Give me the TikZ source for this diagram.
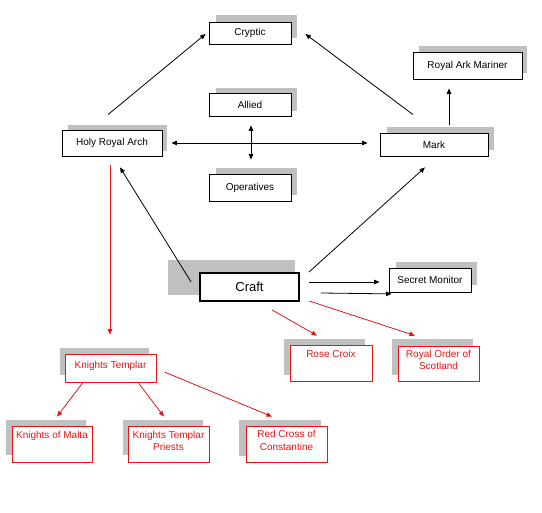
\documentclass[tikz,border=0pt]{standalone}
\usepackage{fontspec}
\setmainfont{Liberation Sans}
\usetikzlibrary{arrows.meta,calc}
\definecolor{shade}{RGB}{192,192,192}
\definecolor{redline}{RGB}{230,20,20}
\tikzset{
  box/.style={draw=black,line width=0.8pt,fill=white,inner sep=0pt,font=\fontsize{10}{12}\selectfont},
  rbox/.style={draw=redline,line width=0.8pt,fill=white,inner sep=0pt},
  rtext/.style={text=redline,inner sep=0pt,anchor=north,align=center,font=\fontsize{10}{12.5}\selectfont},
  shadowbox/.style={fill=shade,draw=none},
  arr/.style={line width=0.8pt,-{Triangle[length=5.5pt,width=4.5pt]}},
  darr/.style={line width=0.8pt,{Triangle[length=5.5pt,width=4.5pt]}-{Triangle[length=5.5pt,width=4.5pt]}},
  rarr/.style={draw=redline,line width=0.8pt,-{Triangle[length=5.5pt,width=4.5pt]},redline},
}
\begin{document}
\begin{tikzpicture}[x=1pt,y=-1pt]
\useasboundingbox (0,0) rectangle (542,513);
% shadows
\fill[shadowbox] (216,15) rectangle (297,38);
\fill[shadowbox] (419,46) rectangle (527,73);
\fill[shadowbox] (216,88) rectangle (297,111);
\fill[shadowbox] (68,125) rectangle (167,151);
\fill[shadowbox] (387,127) rectangle (494,150);
\fill[shadowbox] (216,168) rectangle (297,195);
\fill[shadowbox] (168,260) rectangle (295,295);
\fill[shadowbox] (396,262) rectangle (477,285);
\fill[shadowbox] (284,339) rectangle (365,375);
\fill[shadowbox] (392,339) rectangle (473,375);
\fill[shadowbox] (60,348) rectangle (149,375);
\fill[shadowbox] (6,420) rectangle (86,455);
\fill[shadowbox] (123,420) rectangle (203,455);
\fill[shadowbox] (239,420) rectangle (321,456);
% black boxes
\node[box,minimum width=82pt,minimum height=22pt] (cryptic) at (250,33) {Cryptic};
\node[box,minimum width=109pt,minimum height=27pt] (ram) at (467.5,65.5) {Royal Ark Mariner};
\node[box,minimum width=82pt,minimum height=23pt] (allied) at (250,104.5) {Allied};
\node[box,minimum width=100pt,minimum height=26pt] (hra) at (112,143) {Holy Royal Arch};
\node[box,minimum width=108pt,minimum height=23pt] (mark) at (434,144.5) {Mark};
\node[box,minimum width=82pt,minimum height=27pt] (oper) at (250,187.5) {Operatives};
\node[box,line width=1.8pt,minimum width=99pt,minimum height=28pt,font=\fontsize{13}{15}\selectfont] (craft) at (249.5,287) {Craft};
\node[box,minimum width=82pt,minimum height=24pt] (secmon) at (430,280) {Secret Monitor};
% red boxes
\node[rbox,minimum width=82pt,minimum height=36pt] (rose) at (331,363) {};
\node[rbox,minimum width=81pt,minimum height=35pt] (roy) at (438.5,363.5) {};
\node[rbox,minimum width=91pt,minimum height=28pt] (kt) at (110.5,368) {};
\node[rbox,minimum width=80pt,minimum height=36pt] (malta) at (52,444) {};
\node[rbox,minimum width=81pt,minimum height=36pt] (ktp) at (168.5,444) {};
\node[rbox,minimum width=81pt,minimum height=36pt] (rc) at (286.5,444) {};
% red texts
\node[rtext] (rose-t) at ($(rose.north)+(0,5.5)$) {Rose Croix};
\node[rtext] (roy-t) at ($(roy.north)+(0,4)$) {Royal Order of\\Scotland};
\node[rtext] (kt-t) at ($(kt.north)+(0,7)$) {Knights Templar};
\node[rtext] (malta-t) at ($(malta.north)+(0,5.5)$) {Knights of Malta};
\node[rtext] (ktp-t) at ($(ktp.north)+(0,5)$) {Knights Templar\\Priests};
\node[rtext] (rc-t) at ($(rc.north)+(0,4.5)$) {Red Cross of\\Constantine};
% black connectors
\draw[arr] ($(hra.north)+(-4,-15)$) -- ($(cryptic.west)+(-3,1)$);
\draw[arr] ($(mark.north)+(-21,-18)$) -- ($(cryptic.east)+(14,1)$);
\draw[arr] ($(mark.north)+(15,-8)$) -- ($(ram.south)+(-18.5,9)$);
\draw[darr] ($(hra.east)+(9,0)$) -- ($(mark.west)+(-12,-1.5)$);
\draw[darr] ($(allied.south)+(1,9)$) -- ($(oper.north)+(1,-14)$);
\draw[arr] ($(craft.west)+(-8,-5)$) -- ($(hra.south)+(8,11)$);
\draw[arr] ($(craft.north east)+(9,0)$) -- ($(mark.south)+(-9,11)$);
\draw[arr] ($(craft.east)+(9,-5)$) -- ($(secmon.west)+(-9,2)$);
\draw[arr] ($(craft.east)+(21,6)$) -- ($(secmon.south west)+(3,1.5)$);
% red connectors
\draw[rarr] ($(craft.south)+(22.5,8)$) -- ($(rose.north)+(-14,-9)$);
\draw[rarr] ($(craft.south east)+(9,-1)$) -- ($(roy.north)+(-23.5,-10)$);
\draw[rarr] ($(hra.south)+(-2,9)$) -- ($(kt.north)+(-0.5,-19)$);
\draw[rarr] ($(kt.south)+(-27.5,0)$) -- ($(malta.north)+(5,-9)$);
\draw[rarr] ($(kt.south)+(27.5,0)$) -- ($(ktp.north)+(-4.5,-9)$);
\draw[rarr] ($(kt.east)+(8,4)$) -- ($(rc.north)+(-14.5,-9)$);
\end{tikzpicture}
\end{document}
